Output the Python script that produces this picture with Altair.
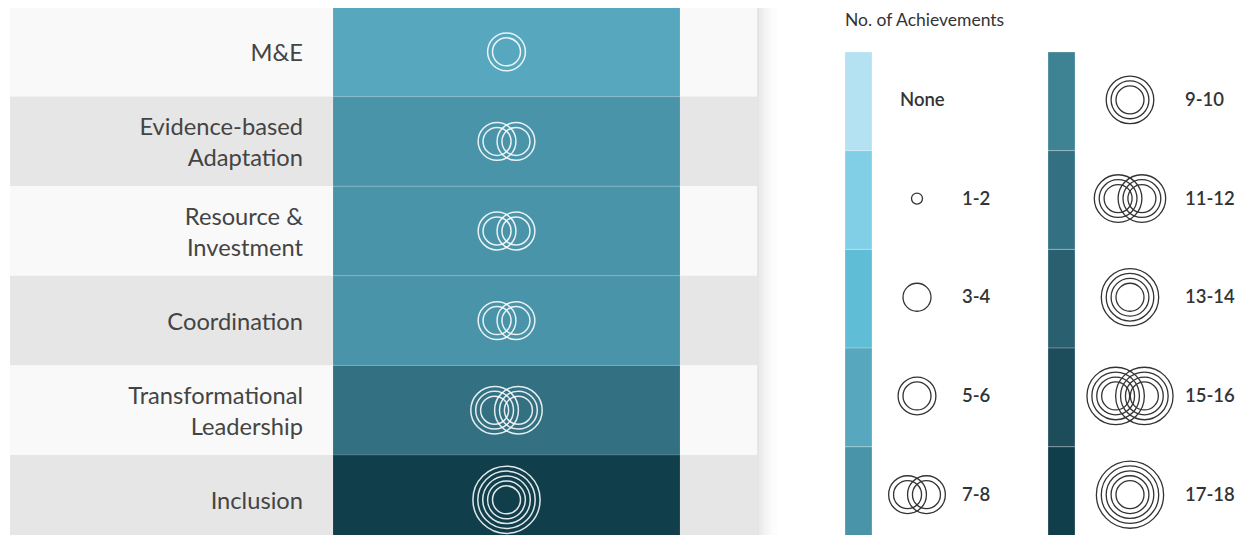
import altair as alt
import pandas as pd

# ---------------- data ----------------
CATEGORIES = ["M&E", "Evidence-based\nAdaptation", "Resource &\nInvestment",
              "Coordination", "Transformational\nLeadership", "Inclusion"]
CATEGORY_BUCKET = ["5-6", "7-8", "7-8", "7-8", "11-12", "17-18"]

LEGEND_TITLE = "No. of Achievements"
LEGEND_LABELS = ["None", "1-2", "3-4", "5-6", "7-8",
                 "9-10", "11-12", "13-14", "15-16", "17-18"]
LEGEND_COLORS = ["#b5e2f3", "#80cfe7", "#5fbdd6", "#57a8bf", "#4a94aa",
                 "#3e8394", "#327082", "#295f6e", "#1d4d5b", "#103e4b"]

# ---------------- layout (pixel units of the page) ----------------
ROW_TOP, ROW_H = 7, 89.6
BG_X0, BG_X1 = 10, 757
CELL_X0, CELL_X1 = 333, 680
LABEL_X = 303
LABEL_DY = 2
LINE_H = 31
LEG_TOP, LEG_H = 52, 98.7
LEG_BAR_X = [845, 1048]
LEG_BAR_W = 27
LEG_GLYPH_X = [917, 1130]
LEG_LABEL_X = [962, 1185]
LEG_NONE_X = 900
FONT = "Lato"


def ring_set(bucket, cx, cy):
    """Concentric ring glyph for an achievement bucket."""
    b = LEGEND_LABELS.index(bucket)
    out = []
    if b == 0:
        return out
    if b == 1:
        out.append((cx, cy, 5.5))
        return out
    n = (b + 1) // 2
    radii = [14 + 4.9 * k for k in range(n)]
    doubled = (b % 2 == 0) and b >= 4
    offs = [-radii[-1] / 2, radii[-1] / 2] if doubled else [0]
    for o in offs:
        for r in radii:
            out.append((cx + o, cy, r))
    return out


rows = []
main_rings = []
for i, (cat, bucket) in enumerate(zip(CATEGORIES, CATEGORY_BUCKET)):
    y0 = ROW_TOP + i * ROW_H
    yc = y0 + ROW_H / 2
    nlines = cat.count("\n") + 1
    rows.append(dict(label=cat, bucket=bucket, y0=y0, y1=y0 + ROW_H,
                     ly=yc - (nlines - 1) * LINE_H / 2 + LABEL_DY,
                     bg="#f9f9f9" if i % 2 == 0 else "#e6e6e6",
                     bx0=BG_X0, bx1=BG_X1, cx0=CELL_X0, cx1=CELL_X1, lx=LABEL_X))
    for (x, y, r) in ring_set(bucket, (CELL_X0 + CELL_X1) / 2, yc):
        main_rings.append(dict(x=x, y=y, size=4 * r * r))
rows = pd.DataFrame(rows)
main_rings = pd.DataFrame(main_rings)

leg = []
leg_rings = []
for i, lab in enumerate(LEGEND_LABELS):
    col, r_i = i // 5, i % 5
    y0 = LEG_TOP + r_i * LEG_H
    yc = y0 + LEG_H / 2 - 1.5
    leg.append(dict(label=lab, x0=LEG_BAR_X[col], x1=LEG_BAR_X[col] + LEG_BAR_W,
                    y0=y0, y1=y0 + LEG_H, yc=yc,
                    lx=LEG_NONE_X if lab == "None" else LEG_LABEL_X[col]))
    for (x, y, r) in ring_set(lab, LEG_GLYPH_X[col], yc):
        leg_rings.append(dict(x=x, y=y, size=4 * r * r))
leg = pd.DataFrame(leg)
leg_rings = pd.DataFrame(leg_rings)

shadow = pd.DataFrame([dict(x0=BG_X1 + 2 * k, x1=BG_X1 + 2 * k + 2, y0=ROW_TOP, y1=560,
                            op=0.10 * (1 - k / 12) ** 2) for k in range(12)])

title_df = pd.DataFrame([dict(t=LEGEND_TITLE, x=845, y=20.5)])

# ---------------- scales ----------------
W, H = 1227, 527
XS = alt.Scale(domain=[8, 8 + W], nice=False, zero=False)
YS = alt.Scale(domain=[8, 8 + H], nice=False, zero=False, reverse=True)
color_scale = alt.Scale(domain=LEGEND_LABELS, range=LEGEND_COLORS)

X = lambda f: alt.X(f, type="quantitative", scale=XS, axis=None)
Y = lambda f: alt.Y(f, type="quantitative", scale=YS, axis=None)

bg = alt.Chart(rows).mark_rect().encode(
    x=X("bx0"), x2="bx1", y=Y("y0"), y2="y1",
    fill=alt.Fill("bg:N", scale=None))

shadow_l = alt.Chart(shadow).mark_rect(color="#000000").encode(
    x=X("x0"), x2="x1", y=Y("y0"), y2="y1",
    opacity=alt.Opacity("op:Q", scale=None))

cells = alt.Chart(rows).mark_rect(stroke="#ffffff", strokeOpacity=0.12, strokeWidth=1).encode(
    x=X("cx0"), x2="cx1", y=Y("y0"), y2="y1",
    fill=alt.Fill("bucket:N", scale=color_scale, legend=None))

labels = alt.Chart(rows).mark_text(align="right", baseline="middle", font=FONT,
                                   fontSize=23.7, color="#444444", lineBreak="\n",
                                   lineHeight=LINE_H).encode(
    x=X("lx"), y=Y("ly"), text="label:N")

rings_main = alt.Chart(main_rings).mark_point(shape="circle", filled=False,
                                              stroke="#ffffff", strokeWidth=1.5,
                                              opacity=0.88).encode(
    x=X("x"), y=Y("y"), size=alt.Size("size:Q", scale=None))

leg_bars = alt.Chart(leg).mark_rect(stroke="#ffffff", strokeOpacity=0.25, strokeWidth=1).encode(
    x=X("x0"), x2="x1", y=Y("y0"), y2="y1",
    fill=alt.Fill("label:N", scale=color_scale, legend=None))

leg_text = alt.Chart(leg).mark_text(align="left", baseline="middle", font=FONT,
                                    fontSize=18.5, fontWeight=600,
                                    color="#333333").encode(
    x=X("lx"), y=Y("yc"), text="label:N")

rings_leg = alt.Chart(leg_rings).mark_point(shape="circle", filled=False,
                                            stroke="#333333", strokeWidth=1.3,
                                            opacity=1).encode(
    x=X("x"), y=Y("y"), size=alt.Size("size:Q", scale=None))

title = alt.Chart(title_df).mark_text(align="left", baseline="middle", font=FONT,
                                      fontSize=17.5, color="#333333").encode(
    x=X("x"), y=Y("y"), text="t:N")

chart = alt.layer(bg, shadow_l, cells, labels, rings_main, leg_bars, leg_text,
                  rings_leg, title).properties(
    width=W, height=H, padding=0, autosize=alt.AutoSizeParams(type="none")
).configure_view(stroke=None)

chart.save("out.html", embed_options={"renderer": "svg", "actions": False})
